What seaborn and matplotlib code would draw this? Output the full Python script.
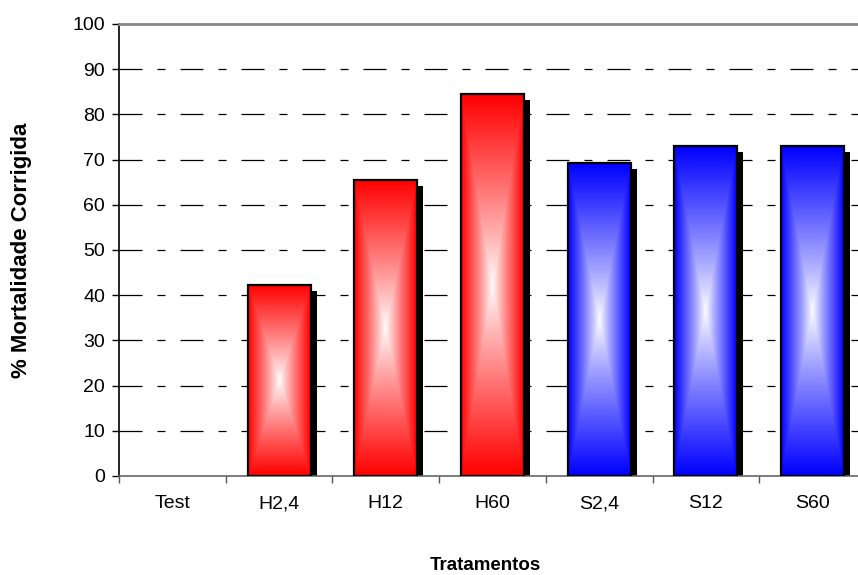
import numpy as np
import pandas as pd
import matplotlib
matplotlib.use("Agg")
import matplotlib.pyplot as plt
import matplotlib.transforms as mtransforms
from matplotlib.patches import Rectangle
import seaborn as sns

categories = ["Test", "H2,4", "H12", "H60", "S2,4", "S12", "S60"]
values = [0, 42.3, 65.5, 84.5, 69.2, 73.0, 73.0]
groups = ["T", "H", "H", "H", "S", "S", "S"]
palette = {"T": "#FF0000", "H": "#FF0000", "S": "#0000FF"}
y_ticks = list(range(0, 101, 10))

plt.rcParams["font.family"] = ["Liberation Sans", "DejaVu Sans"]

df = pd.DataFrame({"Tratamento": categories, "Valor": values, "Grupo": groups})

fig = plt.figure(figsize=(8.58, 5.75), dpi=100)
# plot area extends slightly past the right edge of the figure (as in the reference)
ax = fig.add_axes([119 / 858, 1 - 476 / 575, (866 - 119) / 858, (476 - 24) / 575])

sns.barplot(data=df, x="Tratamento", y="Valor", hue="Grupo", palette=palette,
            width=0.59, dodge=False, legend=False, ax=ax, order=categories,
            saturation=1)

ax.set_xlim(-0.5, 6.5)
ax.set_ylim(0, 100)

# gradient: white centre, full colour at edges (rectangular "from centre")
n = 200
u = np.linspace(-1, 1, n)
U, V = np.meshgrid(u, u)
T = np.maximum(np.abs(U), np.abs(V))

shadow_off = mtransforms.ScaledTranslation(6 / 100, -6 / 100, fig.dpi_scale_trans)
for p in list(ax.patches):
    x, y = p.get_x(), p.get_y()
    w, h = p.get_width(), p.get_height()
    if h <= 0:
        p.set_visible(False)
        continue
    base = np.array(matplotlib.colors.to_rgb(p.get_facecolor()))
    img = 1 - (T[..., None] ** 0.9) * (1 - base[None, None, :])
    p.set_facecolor("none")
    p.set_edgecolor("black")
    p.set_linewidth(1.6)
    p.set_zorder(4)
    sh = Rectangle((x, y), w, h, facecolor="black", edgecolor="none",
                   transform=ax.transData + shadow_off, zorder=2)
    ax.add_patch(sh)
    im = ax.imshow(img, extent=(x, x + w, y, y + h), aspect="auto",
                   interpolation="bilinear", zorder=3)
    im.set_clip_path(p)

ax.set_xlim(-0.5, 6.5)
ax.set_ylim(0, 100)

# gridlines
for yv in y_ticks[1:-1]:
    ax.axhline(yv, color="black", lw=0.9, zorder=1,
               linestyle=(0, (18.4, 12.0, 6.4, 12.0)))

ax.set_yticks(y_ticks)
ax.set_xticks(range(len(categories)))
ax.set_xticklabels(categories)
ax.set_xticks(np.arange(-0.5, 7, 1), minor=True)
ax.tick_params(axis="x", which="major", length=0, pad=14, labelsize=14)
ax.tick_params(axis="x", which="minor", length=5, width=1, color="#555555", direction="out")
ax.tick_params(axis="y", length=5, width=1, pad=5, labelsize=14, direction="out")

ax.spines["right"].set_visible(False)
ax.spines["top"].set_color("#888888")
ax.spines["top"].set_linewidth(2)
ax.spines["left"].set_color("black")
ax.spines["left"].set_linewidth(1.2)
ax.spines["bottom"].set_color("#666666")
ax.spines["bottom"].set_linewidth(1.2)

ax.set_xlabel("Tratamentos", fontsize=13.5, fontweight="bold")
ax.xaxis.set_label_coords(485 / 858, 1 - 557 / 575, transform=fig.transFigure)
ax.set_ylabel("% Mortalidade Corrigida", fontsize=16, fontweight="bold", va="center")
ax.yaxis.set_label_coords(22 / 858, 0.5 * (1 - 24 / 575 + 1 - 476 / 575), transform=fig.transFigure)

fig.savefig("out.png", dpi=100)
